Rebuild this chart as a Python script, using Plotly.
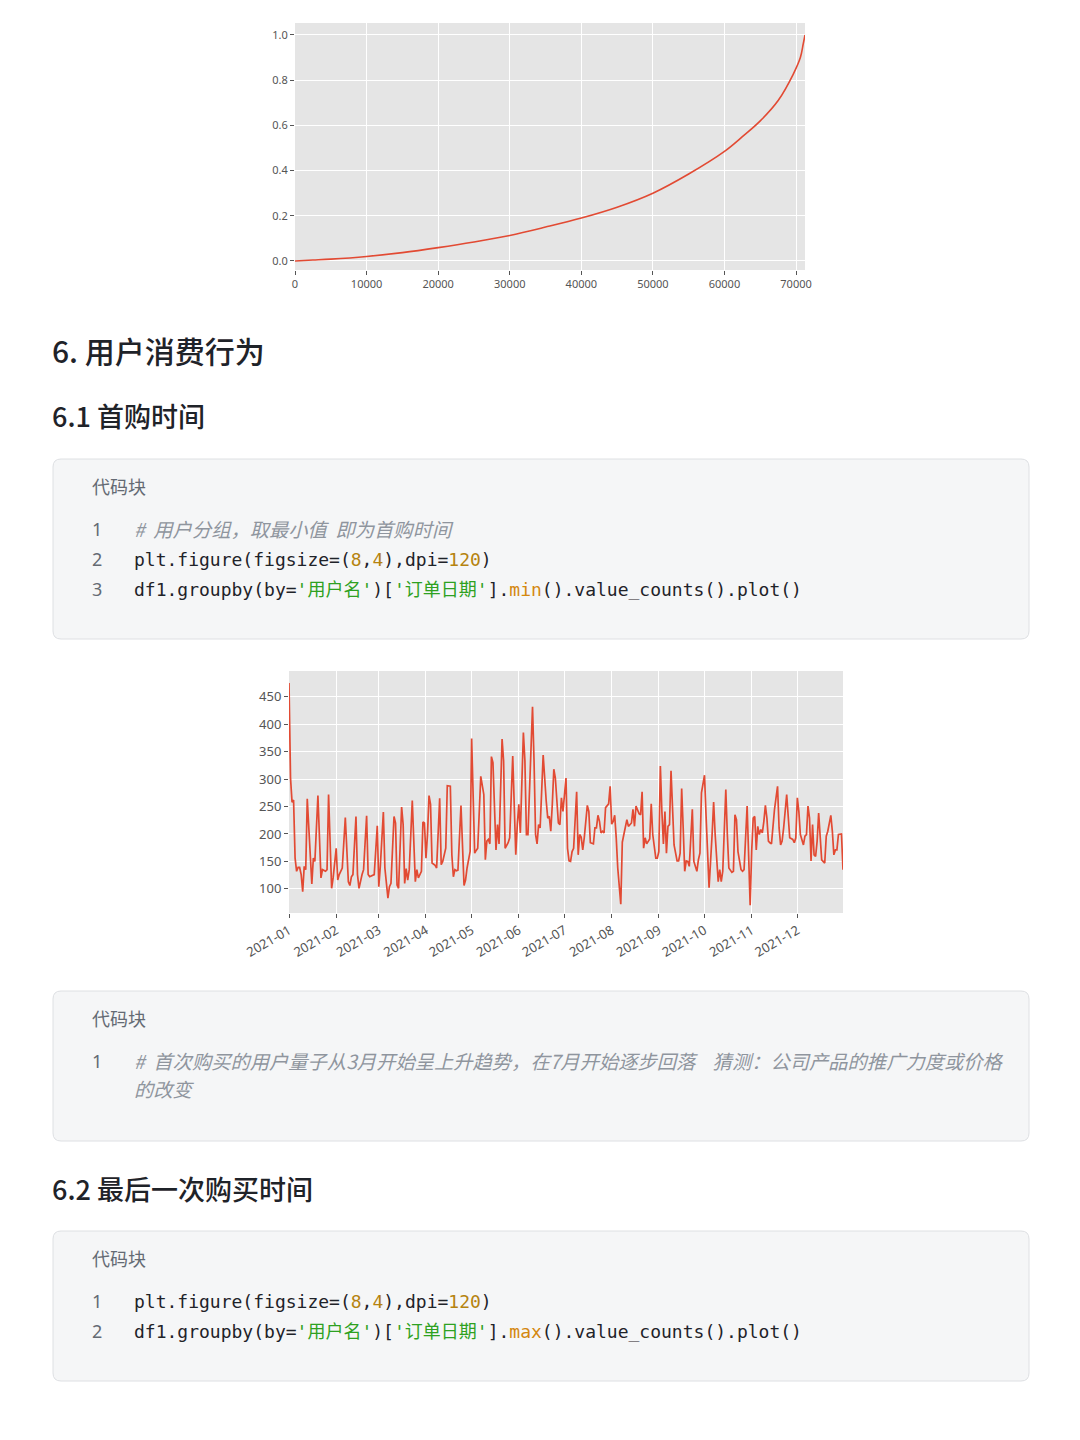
import pandas as pd
import plotly.graph_objects as go

# ---- chart 1: cumulative share curve ----
cum_x = [0, 2500, 5000, 10000, 15000, 20000, 25000, 30000, 35000, 40000, 45000,
         50000, 55000, 60000, 62500, 65000, 67500, 69600, 70600, 71000, 71250]
cum_y = [0.0, 0.004, 0.008, 0.02, 0.037, 0.059, 0.084, 0.113, 0.15, 0.19, 0.238,
         0.30, 0.385, 0.485, 0.55, 0.62, 0.71, 0.826, 0.90, 0.96, 1.0]

# ---- chart 2: first purchase counts per day (day offset from 2021-01-01) ----
day_offset = [
    0, 1, 2, 3, 4, 5, 6, 7, 8, 9, 10, 11, 12, 14, 15, 16, 17, 19, 21, 22, 24, 25, 26, 28, 29,
    31, 32, 33, 35, 37, 39, 40, 41, 42, 44, 45, 46, 48, 49, 51, 52, 53, 55, 56, 58, 59, 60,
    62, 63, 65, 66, 67, 69, 70, 71, 72, 74, 75, 76, 77, 78, 79, 81, 82, 83, 84, 85, 87, 88,
    89, 90, 91, 92, 93, 94, 96, 97, 99, 100, 101, 103, 104, 106, 107, 108, 109, 110, 111,
    113, 115, 116, 117, 119, 120, 122, 123, 124, 126, 128, 129, 130, 131, 132, 133, 134,
    136, 137, 138, 140, 141, 142, 144, 145, 147, 148, 149, 150, 151, 152, 154, 155, 156,
    157, 160, 161, 162, 163, 164, 165, 167, 169, 170, 171, 172, 173, 174, 175, 177, 178,
    179, 180, 181, 182, 183, 184, 185, 186, 187, 189, 190, 191, 192, 193, 194, 196, 197,
    198, 200, 201, 202, 203, 204, 205, 206, 207, 208, 210, 211, 212, 213, 214, 215, 216,
    218, 219, 220, 222, 223, 225, 226, 227, 228, 230, 231, 232, 233, 234, 235, 237, 238,
    239, 241, 242, 243, 244, 245, 246, 247, 248, 249, 250, 251, 252, 253, 255, 256, 257,
    258, 259, 260, 261, 262, 263, 265, 266, 268, 269, 270, 271, 273, 274, 276, 278, 279,
    280, 282, 283, 284, 285, 287, 288, 289, 291, 292, 293, 294, 295, 297, 298, 299, 301,
    302, 303, 304, 305, 306, 307, 308, 309, 310, 311, 312, 313, 314, 315, 316, 317, 319,
    321, 322, 323, 324, 325, 327, 328, 329, 331, 332, 333, 334, 335, 336, 338, 339, 340,
    341, 342, 343, 344, 345, 346, 347, 348, 349, 350, 352, 353, 354, 356, 357, 358, 359,
    360, 361, 362, 363, 364,
]
first_buy_count = [
    475, 302, 258, 262, 156, 132, 139, 139, 126, 95, 141, 135, 264, 174, 109, 156, 150, 270, 120, 135, 132, 135, 272, 101, 120,
    174, 116, 126, 138, 230, 113, 106, 122, 126, 232, 126, 101, 126, 135, 233, 126, 122, 124, 126, 215, 104, 141,
    240, 138, 83, 104, 110, 232, 220, 107, 101, 249, 217, 110, 137, 116, 135, 261, 180, 113, 135, 120, 132, 222,
    220, 156, 199, 270, 254, 147, 143, 138, 265, 144, 150, 174, 288, 287, 162, 122, 135, 133, 134,
    252, 106, 116, 138, 168, 374, 165, 170, 174, 305, 272, 153, 187, 190, 182, 341, 330,
    171, 217, 182, 373, 333, 174, 184, 193, 342, 260, 162, 217, 254, 202, 385, 333, 199,
    199, 432, 333, 199, 182, 217, 211, 344, 260, 229, 232, 205, 254, 318, 302, 220, 217,
    266, 241, 272, 302, 174, 151, 150, 168, 174, 277, 162, 199, 194, 171, 193, 252, 241,
    184, 182, 211, 211, 234, 223, 202, 205, 202, 248, 255, 287, 218, 223, 234, 193, 138,
    72, 185, 199, 226, 214, 220, 245, 214, 251, 237, 235, 277, 174, 193, 182, 191, 255,
    199, 156, 156, 168, 324, 241, 182, 241, 165, 214, 217, 315, 248, 180, 151, 151, 165,
    283, 211, 132, 151, 150, 141, 245, 150, 132, 153, 165, 275, 307, 235, 102, 199, 258,
    199, 113, 135, 113, 132, 281, 199, 138, 130, 132, 235, 226, 168, 135, 132, 135, 251,
    174, 70, 168, 229, 232, 171, 214, 199, 208, 202, 223, 252, 229, 187, 184, 182, 245,
    287, 211, 180, 187, 211, 272, 229, 193, 190, 184, 193, 266, 241, 199, 180, 196, 199,
    251, 229, 151, 217, 162, 159, 187, 238, 193, 153, 147, 196, 205, 234, 205, 162, 171,
    171, 199, 200, 200, 135,
]
month_ticks = ["2021-01-01", "2021-02-01", "2021-03-01", "2021-04-01", "2021-05-01", "2021-06-01",
               "2021-07-01", "2021-08-01", "2021-09-01", "2021-10-01", "2021-11-01", "2021-12-01"]
month_labels = ["2021-01", "2021-02", "2021-03", "2021-04", "2021-05", "2021-06",
                "2021-07", "2021-08", "2021-09", "2021-10", "2021-11", "2021-12"]

W, H = 1080, 1440
LINE_RED = "#e24a33"
TICK_GREY = "#555555"


def px(x):
    return x / W


def py(y):
    return 1 - y / H


def rounded_box(x0, y0, x1, y1, r=8):
    rx, ry = r / W, r / H
    a, b, c, d = px(x0), py(y1), px(x1), py(y0)  # b bottom, d top
    return (f"M {a + rx},{b} L {c - rx},{b} Q {c},{b} {c},{b + ry} "
            f"L {c},{d - ry} Q {c},{d} {c - rx},{d} L {a + rx},{d} "
            f"Q {a},{d} {a},{d - ry} L {a},{b + ry} Q {a},{b} {a + rx},{b} Z")


dates = pd.to_datetime("2021-01-01") + pd.to_timedelta(day_offset, unit="D")

fig = go.Figure()
fig.add_trace(go.Scatter(x=cum_x, y=cum_y, mode="lines", line=dict(color=LINE_RED, width=1.6, shape="spline"),
                         xaxis="x", yaxis="y", showlegend=False))
fig.add_trace(go.Scatter(x=dates, y=first_buy_count, mode="lines", line=dict(color=LINE_RED, width=1.7),
                         xaxis="x2", yaxis="y2", showlegend=False))

axis_common = dict(showgrid=True, gridcolor="white", gridwidth=1, zeroline=False, showline=False,
                   ticks="outside", ticklen=4, tickcolor=TICK_GREY, tickwidth=1, automargin=False)

fig.update_layout(
    width=W, height=H,
    margin=dict(l=0, r=0, t=0, b=0, autoexpand=False),
    paper_bgcolor="white",
    plot_bgcolor="#e5e5e5",
    xaxis=dict(domain=[px(295), px(805)], anchor="y", range=[0, 71250],
               tickvals=[0, 10000, 20000, 30000, 40000, 50000, 60000, 70000], tickformat="d",
               tickfont=dict(family="Noto Sans", size=11, color=TICK_GREY), **axis_common),
    yaxis=dict(domain=[py(270), py(23)], anchor="x", range=[-0.04, 1.053],
               tickvals=[0, 0.2, 0.4, 0.6, 0.8, 1.0], tickformat=".1f",
               tickfont=dict(family="Noto Sans", size=11, color=TICK_GREY), **axis_common),
    xaxis2=dict(domain=[px(289), px(843)], anchor="y2", range=["2021-01-01", "2021-12-31"],
                tickvals=month_ticks, ticktext=month_labels, tickangle=-30,
                tickfont=dict(family="Noto Sans", size=13, color=TICK_GREY), **axis_common),
    yaxis2=dict(domain=[py(913), py(671)], anchor="x2", range=[56, 497],
                tickvals=[100, 150, 200, 250, 300, 350, 400, 450],
                tickfont=dict(family="Noto Sans", size=13, color=TICK_GREY), **axis_common),
)

# code block boxes
for y0, y1 in [(459, 639), (991, 1141), (1231, 1381)]:
    fig.add_shape(type="path", path=rounded_box(53, y0, 1029, y1), xref="paper", yref="paper",
                  fillcolor="#f5f6f7", line=dict(color="#dee0e3", width=1), layer="below")

HEAD = "Noto Sans CJK SC"
CODE = "DejaVu Sans Mono, Noto Sans CJK SC"
DARK = "#1f2329"
GREY = "#646a73"
COMMENT = "#8f959e"
STR = "#2ea121"
NUM = "#b5830f"
FUNC = "#d4880f"


def text(x, y, s, size, color=DARK, family=HEAD, weight="normal"):
    fig.add_annotation(x=px(x), y=py(y), xref="paper", yref="paper", text=s, showarrow=False,
                       xanchor="left", yanchor="middle",
                       font=dict(family=family, size=size, color=color, weight=weight))


def num(s):
    return f'<span style="color:{NUM}">{s}</span>'


def sq(s):
    return f'<span style="color:{STR}">{s}</span>'


text(50, 350, "6. 用户消费行为", 30, weight=500)
text(50, 416, "6.1 首购时间", 27, weight=500)
text(50, 1188, "6.2 最后一次购买时间", 27, weight=500)

figure_line = f"plt.figure(figsize=({num('8')},{num('4')}),dpi={num('120')})"

# block 1
text(90, 486, "代码块", 18, GREY)
for n, yy in zip(["1", "2", "3"], [529, 559, 589]):
    text(90, yy, n, 18, GREY, "Noto Sans")
text(132, 529, "<i>#  用户分组，取最小值  即为首购时间</i>", 19.3, COMMENT)
text(132, 559, figure_line, 18, DARK, CODE)
text(132, 589, f"df1.groupby(by={sq(chr(39) + '用户名' + chr(39))})[{sq(chr(39) + '订单日期' + chr(39))}]."
               f'<span style="color:{FUNC}">min</span>().value_counts().plot()', 18, DARK, CODE)

# block 2
text(90, 1018, "代码块", 18, GREY)
text(90, 1061, "1", 18, GREY, "Noto Sans")
text(132, 1061, "<i>#  首次购买的用户量子从3月开始呈上升趋势，在7月开始逐步回落    猜测：公司产品的推广力度或价格</i>",
     19.3, COMMENT)
text(132, 1089, "<i>的改变</i>", 19.3, COMMENT)

# block 3
text(90, 1258, "代码块", 18, GREY)
for n, yy in zip(["1", "2"], [1301, 1331]):
    text(90, yy, n, 18, GREY, "Noto Sans")
text(132, 1301, figure_line, 18, DARK, CODE)
text(132, 1331, f"df1.groupby(by={sq(chr(39) + '用户名' + chr(39))})[{sq(chr(39) + '订单日期' + chr(39))}]."
                f'<span style="color:{FUNC}">max</span>().value_counts().plot()', 18, DARK, CODE)

fig.write_html("out.html", config={"displayModeBar": False},
               post_script="document.body.style.margin='0px';")
